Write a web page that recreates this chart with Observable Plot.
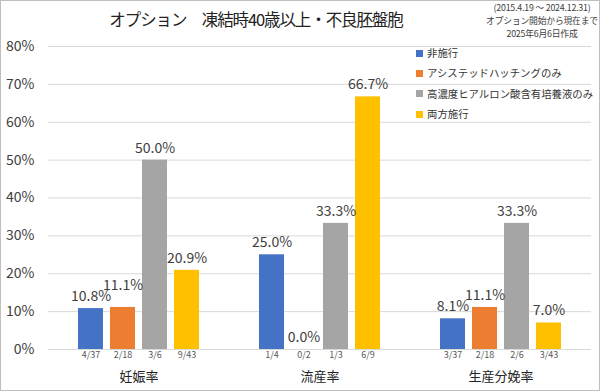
<!DOCTYPE html>
<html><head><meta charset="utf-8">
<script src="https://cdn.jsdelivr.net/npm/d3@7"></script>
<script src="https://cdn.jsdelivr.net/npm/@observablehq/plot@0.6"></script>
<style>
body{margin:0;background:#fff;}
#wrap{position:relative;width:600px;height:391px;overflow:hidden;background:#fff;font-family:"Noto Sans CJK JP","Noto Sans",sans-serif;}
#wrap svg{position:absolute;left:0;top:0;}
#border{position:absolute;left:0;top:0;width:600px;height:391px;box-sizing:border-box;border:1px solid #bfbfbf;pointer-events:none;}
#title{position:absolute;left:0;width:512px;top:7px;text-align:center;font-size:16.5px;letter-spacing:-1.1px;color:#222;white-space:nowrap;}
.note{position:absolute;left:442px;width:200px;text-align:center;font-size:8.8px;letter-spacing:-0.2px;color:#404040;white-space:nowrap;line-height:13px;}
#legend{position:absolute;left:416px;top:43px;font-size:10.4px;color:#333;}
#legend div{height:20.3px;line-height:20.3px;white-space:nowrap;}
#legend span{display:inline-block;width:7px;height:7px;margin-right:4px;vertical-align:middle;position:relative;top:-1px;}
</style></head><body>
<div id="wrap"></div>
<script>
const groups = ["妊娠率", "流産率", "生産分娩率"];
const series = ["非施行", "アシステッドハッチングのみ", "高濃度ヒアルロン酸含有培養液のみ", "両方施行"];
const colors = ["#4472C4", "#ED7D31", "#A5A5A5", "#FFC000"];
const rateNonetreat = [10.8, 25.0, 8.1];
const rateHatching = [11.1, 0.0, 11.1];
const rateHyaluronan = [50.0, 33.3, 33.3];
const rateBoth = [20.9, 66.7, 7.0];
const fracNonetreat = ["4/37", "1/4", "3/37"];
const fracHatching = ["2/18", "0/2", "2/18"];
const fracHyaluronan = ["3/6", "1/3", "2/6"];
const fracBoth = ["9/43", "6/9", "3/43"];
const yTicks = [0, 10, 20, 30, 40, 50, 60, 70, 80];
const titleText = "オプション\u3000凍結時40歳以上・不良胚盤胞";
const notes = ["(2015.4.19 ～ 2024.12.31)", "オプション開始から現在まで", "2025年6月6日作成"];

const seriesValues = [rateNonetreat, rateHatching, rateHyaluronan, rateBoth];
const seriesFracs = [fracNonetreat, fracHatching, fracHyaluronan, fracBoth];
const data = [];
groups.forEach((g, gi) => series.forEach((s, si) => data.push({
  group: g, series: s, value: seriesValues[si][gi], frac: seriesFracs[si][gi]
})));
const raised = d => d.group === groups[0] && d.series === series[1];

const font = '"Noto Sans CJK JP","Noto Sans",sans-serif';
const chart = Plot.plot({
  width: 600, height: 391,
  marginLeft: 48, marginRight: 9, marginTop: 46, marginBottom: 42,
  style: {fontFamily: font, background: "transparent", overflow: "visible"},
  fx: {domain: groups, paddingInner: 0, paddingOuter: 0, label: null},
  x: {domain: series, paddingInner: 0.21, paddingOuter: 0.85, axis: null},
  y: {domain: [0, 80], axis: null},
  color: {domain: series, range: colors},
  marks: [
    Plot.gridY(yTicks, {stroke: "#d9d9d9", strokeOpacity: 1, strokeWidth: 1}),
    Plot.axisY(yTicks, {tickSize: 0, tickPadding: 14, tickFormat: d => d + "%", fontSize: 14, fill: "#404040", label: null}),
    Plot.axisFx({anchor: "bottom", tickSize: 0, tickPadding: 22, fontSize: 13, fill: "#222", label: null}),
    Plot.barY(data, {fx: "group", x: "series", y: "value", fill: "series"}),
    Plot.text(data.filter(d => !raised(d)), {fx: "group", x: "series", y: "value", text: d => d.value.toFixed(1) + "%", lineAnchor: "middle", dy: -12, fontSize: 14, fill: "#404040"}),
    Plot.text(data.filter(raised), {fx: "group", x: "series", y: "value", text: d => d.value.toFixed(1) + "%", lineAnchor: "middle", dy: -22, fontSize: 14, fill: "#404040"}),
    Plot.text(data, {fx: "group", x: "series", y: 0, text: "frac", lineAnchor: "top", dy: 2, fontSize: 9, fill: "#595959"})
  ]
});

const wrap = document.getElementById("wrap");
wrap.appendChild(chart);
const t = document.createElement("div"); t.id = "title"; t.textContent = titleText; wrap.appendChild(t);
notes.forEach((n, i) => {
  const d = document.createElement("div"); d.className = "note"; d.style.top = (1 + i * 13) + "px"; d.textContent = n; wrap.appendChild(d);
});
const lg = document.createElement("div"); lg.id = "legend";
series.forEach((s, i) => {
  const row = document.createElement("div");
  const sw = document.createElement("span"); sw.style.background = colors[i];
  row.appendChild(sw); row.appendChild(document.createTextNode(s)); lg.appendChild(row);
});
wrap.appendChild(lg);
const b = document.createElement("div"); b.id = "border"; wrap.appendChild(b);
</script>
</body></html>
